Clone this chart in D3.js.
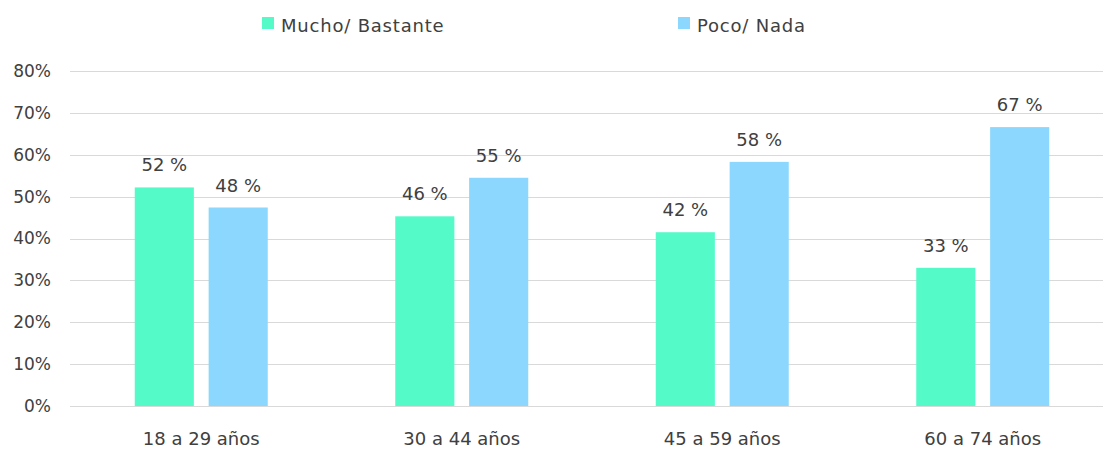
<!DOCTYPE html>
<html>
<head>
<meta charset="utf-8">
<script src="https://cdn.jsdelivr.net/npm/d3@7"></script>
<style>
  body { margin: 0; background: #fff; }
  text { font-family: "DejaVu Sans", sans-serif; fill: #404040; }
</style>
</head>
<body>
<svg width="1103" height="459"></svg>
<script>
const categories = ["18 a 29 años", "30 a 44 años", "45 a 59 años", "60 a 74 años"]
const seriesNames = ["Mucho/ Bastante", "Poco/ Nada"]
const mucho = [52.2, 45.3, 41.5, 33.0]
const poco = [47.4, 54.5, 58.3, 66.6]
const muchoLabels = ["52 %", "46 %", "42 %", "33 %"]
const pocoLabels = ["48 %", "55 %", "58 %", "67 %"]
const yTicks = [0, 10, 20, 30, 40, 50, 60, 70, 80]
const colors = ["#55fac9", "#8cd7fd"]

const svg = d3.select("svg")

const x = d3.scaleBand()
  .domain(categories)
  .range([71, 1113])
const y = d3.scaleLinear()
  .domain([0, 80])
  .range([406, 71])

// offset of each bar inside its band
const inner = d3.scaleBand()
  .domain([0, 1])
  .range([-66.5, 66.5])
  .paddingInner(0.2)

// gridlines
svg.append("g")
  .selectAll("line")
  .data(yTicks)
  .enter().append("line")
  .attr("x1", 70).attr("x2", 1103)
  .attr("y1", d => Math.round(y(d)) + 0.5)
  .attr("y2", d => Math.round(y(d)) + 0.5)
  .attr("stroke", "#d9d9d9")
  .attr("stroke-width", 1)

// y tick labels
const yAxis = d3.axisLeft(y).tickValues(yTicks).tickFormat(d => d + "%").tickSize(0).tickPadding(0)
const yg = svg.append("g").attr("transform", "translate(51,0)").call(yAxis)
yg.select(".domain").remove()
yg.selectAll("text").style("font-size", "17px").style("font-family", "DejaVu Sans").attr("fill", "#404040")

// x axis labels
const xAxis = d3.axisBottom(x).tickSize(0).tickPadding(0)
const xg = svg.append("g").attr("transform", "translate(0,432)").call(xAxis)
xg.select(".domain").remove()
xg.selectAll("text").style("font-size", "18px").style("font-family", "DejaVu Sans").attr("fill", "#404040")

const rows = categories.map((c, i) => ({
  cat: c,
  vals: [mucho[i], poco[i]],
  labels: [muchoLabels[i], pocoLabels[i]]
}))

const groups = svg.append("g")
  .selectAll("g")
  .data(rows)
  .enter().append("g")
  .attr("transform", d => "translate(" + (x(d.cat) + x.bandwidth() / 2) + ",0)")

groups.selectAll("rect")
  .data(d => d.vals.map((v, j) => ({ v: v, j: j })))
  .enter().append("rect")
  .attr("x", d => inner(d.j))
  .attr("width", inner.bandwidth())
  .attr("y", d => y(d.v))
  .attr("height", d => y(0) - y(d.v))
  .attr("fill", d => colors[d.j])

groups.selectAll(".val")
  .data(d => d.vals.map((v, j) => ({ v: v, j: j, t: d.labels[j] })))
  .enter().append("text")
  .attr("class", "val")
  .attr("x", d => inner(d.j) + inner.bandwidth() / 2)
  .attr("y", d => y(d.v) - 16)
  .attr("text-anchor", "middle")
  .style("font-size", "18px")
  .text(d => d.t)

// legend
const legendX = [262, 678]
const legend = svg.append("g")
  .selectAll("g")
  .data(seriesNames)
  .enter().append("g")
  .attr("transform", (d, i) => "translate(" + legendX[i] + ",17)")
legend.append("rect")
  .attr("width", 12).attr("height", 12)
  .attr("fill", (d, i) => colors[i])
legend.append("text")
  .attr("x", 19).attr("y", 14.5)
  .style("font-size", "18px")
  .style("letter-spacing", "0.8px")
  .text(d => d)

// baseline
svg.append("line")
  .attr("x1", 70).attr("x2", 1103)
  .attr("y1", 406.5).attr("y2", 406.5)
  .attr("stroke", "#d9d9d9")
</script>
</body>
</html>
